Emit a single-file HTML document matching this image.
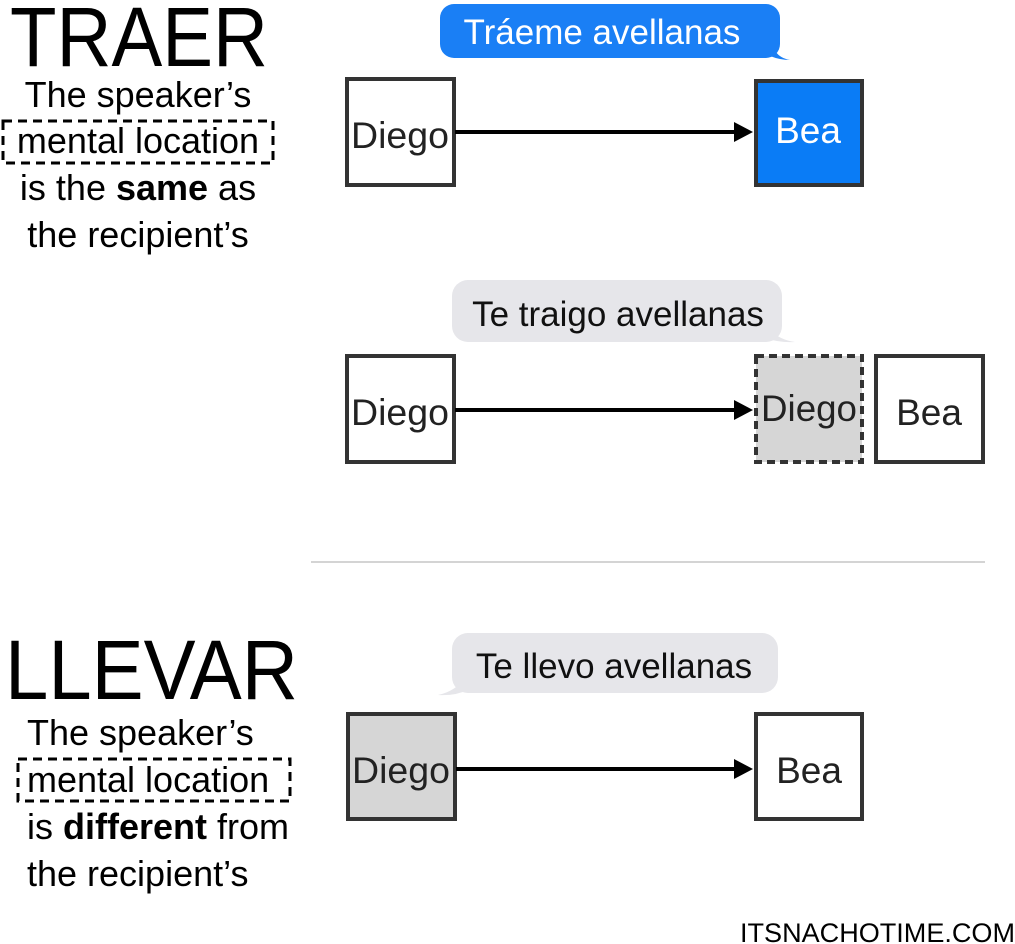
<!DOCTYPE html>
<html><head><meta charset="utf-8"><style>
html,body{margin:0;padding:0;background:#fff;}
svg{display:block;font-family:"Liberation Sans",sans-serif;}
</style></head><body>
<svg width="1015" height="944" viewBox="0 0 1015 944" xmlns="http://www.w3.org/2000/svg">
<!-- TRAER -->
<text x="10" y="66" font-size="84" textLength="258" lengthAdjust="spacingAndGlyphs">TRAER</text>
<g font-size="36" text-anchor="middle">
<text x="138" y="107">The speaker’s</text>
<text x="138" y="153">mental location</text>
<text x="138" y="200">is the <tspan font-weight="bold">same</tspan> as</text>
<text x="138" y="247">the recipient’s</text>
</g>
<rect x="3" y="121" width="270" height="42" fill="none" stroke="#000" stroke-width="3" stroke-dasharray="9,6"/>
<!-- bubble 1 -->
<path d="M776,52 Q780,58 790,60 Q780,60 770,56 Z" fill="#1a7ff5"/>
<rect x="440" y="4" width="340" height="54" rx="14" fill="#1a7ff5"/>
<text x="602" y="44" font-size="35" fill="#fff" text-anchor="middle">Tráeme avellanas</text>
<rect x="347" y="79" width="107" height="106" fill="#fff" stroke="#333" stroke-width="4"/>
<text x="400" y="148" font-size="37" fill="#222" text-anchor="middle" textLength="98" lengthAdjust="spacingAndGlyphs">Diego</text>
<line x1="455" y1="132" x2="736" y2="132" stroke="#000" stroke-width="4"/>
<path d="M734,122 L753,132 L734,142 Z" fill="#000"/>
<rect x="756" y="81" width="106" height="104" fill="#0a7cf6" stroke="#333" stroke-width="4"/>
<text x="808" y="143" font-size="37" fill="#fff" text-anchor="middle">Bea</text>
<!-- bubble 2 -->
<path d="M770,330 Q780,340 795,342 Q780,343 765,338 Z" fill="#e6e6ea"/>
<rect x="452" y="280" width="330" height="62" rx="16" fill="#e6e6ea"/>
<text x="618" y="326" font-size="35" fill="#111" text-anchor="middle">Te traigo avellanas</text>
<rect x="347" y="356" width="107" height="106" fill="#fff" stroke="#333" stroke-width="4"/>
<text x="400" y="425" font-size="37" fill="#222" text-anchor="middle" textLength="98" lengthAdjust="spacingAndGlyphs">Diego</text>
<line x1="455" y1="410" x2="736" y2="410" stroke="#000" stroke-width="4"/>
<path d="M734,400 L753,410 L734,420 Z" fill="#000"/>
<rect x="756" y="356" width="106" height="106" fill="#d6d6d6" stroke="#333" stroke-width="4" stroke-dasharray="8,5"/>
<text x="809" y="421" font-size="37" fill="#222" text-anchor="middle" textLength="96" lengthAdjust="spacingAndGlyphs">Diego</text>
<rect x="876" y="356" width="107" height="106" fill="#fff" stroke="#333" stroke-width="4"/>
<text x="929" y="425" font-size="37" fill="#222" text-anchor="middle">Bea</text>
<line x1="311" y1="562" x2="985" y2="562" stroke="#aaa" stroke-width="1"/>
<!-- LLEVAR -->
<text x="5" y="699" font-size="84" textLength="293" lengthAdjust="spacingAndGlyphs">LLEVAR</text>
<g font-size="36">
<text x="27" y="745">The speaker’s</text>
<text x="27" y="792">mental location</text>
<text x="27" y="839">is <tspan font-weight="bold">different</tspan> from</text>
<text x="27" y="886">the recipient’s</text>
</g>
<rect x="18" y="759" width="272" height="42" fill="none" stroke="#000" stroke-width="3" stroke-dasharray="9,6"/>
<!-- bubble 3 -->
<path d="M462,682 Q452,692 438,695 Q455,696 468,690 Z" fill="#e6e6ea"/>
<rect x="452" y="633" width="326" height="60" rx="16" fill="#e6e6ea"/>
<text x="614" y="678" font-size="35" fill="#111" text-anchor="middle">Te llevo avellanas</text>
<rect x="348" y="714" width="107" height="105" fill="#d6d6d6" stroke="#333" stroke-width="4"/>
<text x="401" y="783" font-size="37" fill="#222" text-anchor="middle" textLength="98" lengthAdjust="spacingAndGlyphs">Diego</text>
<line x1="456" y1="769" x2="736" y2="769" stroke="#000" stroke-width="4"/>
<path d="M734,759 L753,769 L734,779 Z" fill="#000"/>
<rect x="756" y="714" width="106" height="105" fill="#fff" stroke="#333" stroke-width="4"/>
<text x="809" y="783" font-size="37" fill="#222" text-anchor="middle">Bea</text>
<text x="740" y="942" font-size="27" textLength="275" lengthAdjust="spacingAndGlyphs">ITSNACHOTIME.COM</text>
</svg>
</body></html>
